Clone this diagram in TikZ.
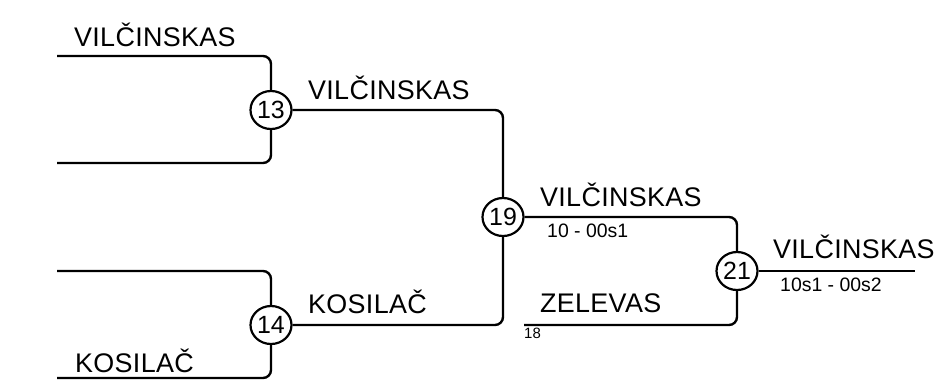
\documentclass[tikz,border=0pt]{standalone}
\usepackage{fontspec}
\setmainfont{Liberation Sans}
\newfontfamily\playerfont[LetterSpace=1.2]{Liberation Sans}
\usetikzlibrary{shapes.geometric}
\begin{document}
\begin{tikzpicture}[x=1bp,y=-1bp,
  wire/.style={line width=2.4bp,rounded corners=8bp},
  match/.style={draw,line width=2.2bp,ellipse,inner sep=0pt,minimum width=41bp,minimum height=38bp,fill=white,font=\fontsize{25}{25}\selectfont},
  playerlbl/.style={anchor=base west,inner sep=0pt,font=\playerfont\fontsize{27}{27}\selectfont},
  scorelbl/.style={anchor=base west,inner sep=0pt,font=\fontsize{19.5}{19.5}\selectfont},
  seedlbl/.style={anchor=base west,inner sep=0pt,font=\fontsize{15}{15}\selectfont}]
\useasboundingbox (0,0) rectangle (938,383);
% match nodes
\node[match] (m13) at (271,110) {13};
\node[match] (m14) at (271,325) {14};
\node[match] (m19) at (503,217) {19};
\node[match] (m21) at (737,271) {21};
% free ends
\coordinate (a1) at (57,56);
\coordinate (a2) at (57,163);
\coordinate (b1) at (57,271);
\coordinate (b2) at (57,378);
\coordinate (z) at (524,325);
\coordinate (w) at (915,271);
% connectors
\draw[wire] (a1) -| (m13);
\draw[wire] (a2) -| (m13);
\draw[wire] (b1) -| (m14);
\draw[wire] (b2) -| (m14);
\draw[wire] (m13) -| (m19);
\draw[wire] (m14) -| (m19);
\draw[wire] (m19) -| (m21);
\draw[wire] (z) -| (m21);
\draw[wire] (m21) -- (w);
% labels
\node[playerlbl] (t1) at (74,46) {VILČINSKAS};
\node[playerlbl] (t2) at (308,99) {VILČINSKAS};
\node[playerlbl] (t3) at (540,206) {VILČINSKAS};
\node[scorelbl] (s3) at (547,237) {10 - 00s1};
\node[playerlbl] (t4) at (773,258) {VILČINSKAS};
\node[scorelbl] (s4) at (780,291) {10s1 - 00s2};
\node[playerlbl] (t5) at (540,312) {ZELEVAS};
\node[seedlbl] (s5) at (524,338) {18};
\node[playerlbl] (t6) at (308,313) {KOSILAČ};
\node[playerlbl] (t7) at (75,372) {KOSILAČ};
\end{tikzpicture}
\end{document}
